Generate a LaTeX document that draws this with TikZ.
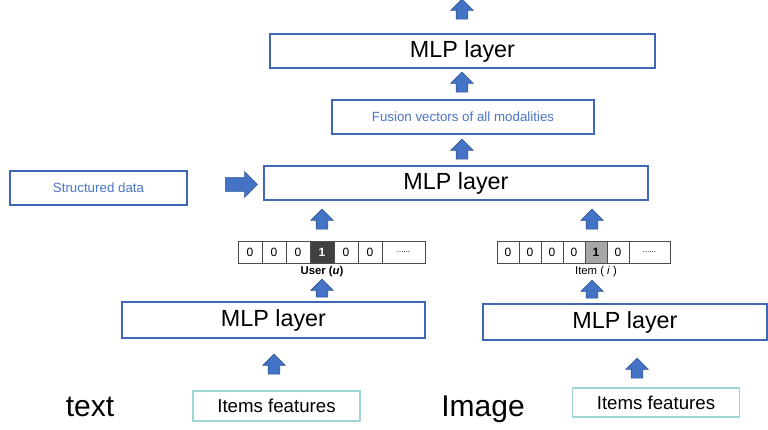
\documentclass[tikz,border=0pt]{standalone}
\usepackage{fontspec}
\setmainfont{Liberation Sans}
\usetikzlibrary{shapes.arrows, positioning}
\usepackage{xcolor}
\definecolor{boxblue}{HTML}{4066B8}
\definecolor{textblue}{HTML}{4A74C8}
\definecolor{arrowblue}{HTML}{4472C4}
\definecolor{arrowedge}{HTML}{2F5597}
\definecolor{featedge}{HTML}{9ED6D3}
\def\px{0.75pt}

\begin{document}
\begin{tikzpicture}[x=0.75pt, y=-0.75pt]
    \tikzstyle{layer}=[draw=boxblue, line width=1.3pt, inner sep=0pt, minimum height=34*\px, font=\fontsize{17.5}{20}\selectfont]
    \tikzstyle{info}=[layer, text=textblue, font=\fontsize{10}{12}\selectfont]
    \tikzstyle{features}=[draw=featedge, line width=0.8pt, inner sep=0pt, minimum height=30*\px, minimum width=167*\px, font=\fontsize{14}{16}\selectfont]
    \tikzstyle{up arrow}=[single arrow, shape border rotate=90, draw=arrowedge, fill=arrowblue, line width=0.4pt, inner sep=5.5*\px, minimum height=20*\px, minimum width=22*\px, single arrow head extend=5.5*\px]
    \tikzstyle{cell}=[draw=black!70, line width=0.5pt, inner sep=0pt, minimum height=22*\px, font=\fontsize{9}{10}\selectfont]
    \tikzstyle{modality}=[inner sep=0pt, font=\fontsize{22.5}{26}\selectfont]

    \useasboundingbox (0,0) rectangle (768,429);

    % Layers of the fusion network
    \node[layer, minimum width=385*\px] (mlp-top) at (462.5,51) {MLP layer};
    \node[info, minimum width=262*\px] (fusion) at (463,117) {Fusion vectors of all modalities};
    \node[layer, minimum width=384*\px] (mlp-mid) at (456,183) {MLP layer};
    \node[info, minimum width=177*\px] (structured) at (98.5,188) {Structured data};
    \node[layer, minimum width=303*\px, minimum height=36*\px] (mlp-text) at (273.5,320) {MLP layer};
    \node[layer, minimum width=284*\px, minimum height=36*\px] (mlp-image) at (625,322) {MLP layer};

    % One-hot vectors for user and item
    \foreach \i in {1,2,3,5,6}
        \node[cell, minimum width=24*\px] (U-\i) at ({238+24*\i-12},252) {0};
    \node[cell, minimum width=24*\px, fill=black!75, text=white, font=\fontsize{9}{10}\selectfont\bfseries] (U-4) at (322,252) {1};
    \node[cell, minimum width=43*\px, font=\fontsize{6}{7}\selectfont] (U-7) at (403.5,252) {......};
    \node[font=\fontsize{8.5}{10}\selectfont\bfseries, inner sep=0pt, below=3*\px of U-4] (user) {User (\textit{u})};

    \foreach \i in {1,2,3,4,6}
        \node[cell, minimum width=22*\px] (V-\i) at ({497+22*\i-11},252) {0};
    \node[cell, minimum width=22*\px, fill=black!35, font=\fontsize{9}{10}\selectfont\bfseries] (V-5) at (596,252) {1};
    \node[cell, minimum width=41*\px, font=\fontsize{6}{7}\selectfont] (V-7) at (649.5,252) {......};
    \node[font=\fontsize{8.5}{10}\selectfont, inner sep=0pt, below=3*\px of V-5] (item) {Item ( \textit{i} )};

    % Inputs
    \node[features] (feat-text) at (276.5,406) {Items features};
    \node[features, minimum height=29*\px] (feat-image) at (656,402.5) {Items features};
    \node[modality] (text) at (90,407) {text};
    \node[modality] (image) at (483,409) {Image};

    % Block arrows between the stages
    \node[up arrow] (a-out) at (462,12) {};
    \node[up arrow] (a-fusion) at (462,85) {};
    \node[up arrow] (a-mid) at (462,152) {};
    \node[up arrow] (a-user) at (322,222) {};
    \node[up arrow] (a-item) at (592,222) {};
    \node[up arrow, minimum height=18*\px] (a-mlp-text) at (322,291) {};
    \node[up arrow, minimum height=18*\px] (a-mlp-image) at (592,292) {};
    \node[up arrow] (a-feat-text) at (274,367) {};
    \node[up arrow] (a-feat-image) at (637,371) {};
    \node[up arrow, shape border rotate=0, inner sep=6.5*\px, minimum height=32*\px, minimum width=25*\px, single arrow head extend=6*\px] (a-structured) at (238,184.5) {};
\end{tikzpicture}
\end{document}
